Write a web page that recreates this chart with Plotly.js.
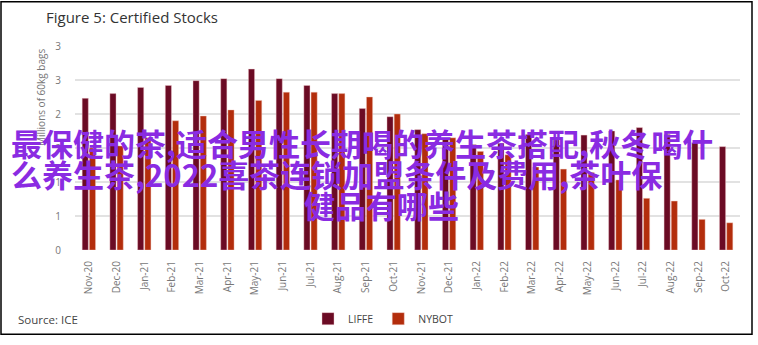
<!DOCTYPE html>
<html>
<head>
<meta charset="utf-8">
<script src="https://cdn.plot.ly/plotly-3.0.1.min.js"></script>
<style>
html,body{margin:0;padding:0;background:#fff;}
#chart{width:758px;height:345px;}
</style>
</head>
<body>
<div id="chart"></div>
<script>
// ---- data ----
const months = ["Nov-20","Dec-20","Jan-21","Feb-21","Mar-21","Apr-21","May-21","Jun-21","Jul-21","Aug-21","Sep-21","Oct-21",
                "Nov-21","Dec-21","Jan-22","Feb-22","Mar-22","Apr-22","May-22","Jun-22","Jul-22","Aug-22","Sep-22","Oct-22"];
const liffe = [2.23, 2.30, 2.39, 2.42, 2.49, 2.52, 2.66, 2.52, 2.42, 2.30, 2.08, 1.96,
               1.77, 1.63, 1.55, 1.57, 1.70, 1.62, 1.69, 1.75, 1.80, 1.70, 1.58, 1.52];
const nybot = [1.50, 1.53, 1.65, 1.90, 1.97, 2.06, 2.20, 2.32, 2.32, 2.30, 2.25, 2.00,
               1.71, 1.65, 1.45, 1.40, 1.22, 1.19, 1.14, 1.03, 0.76, 0.72, 0.45, 0.40];
const yTickVals = [0, 0.5, 1, 1.5, 2, 2.5, 3];
const yTickText = ["0", "1", "1", "2", "2", "3", "3"];
const seriesNames = ["LIFFE", "NYBOT"];
const titleText = "Figure 5: Certified Stocks";
const yTitleText = "Millions of 60kg bags";
const sourceText = "Source: ICE";
const overlayLines = ["最保健的茶,适合男性长期喝的养生茶搭配,秋冬喝什",
                      "么养生茶,2022喜茶连锁加盟条件及费用,茶叶保",
                      "健品有哪些"];

// ---- geometry helpers ----
const W = 758, H = 345;
const M = {l: 75, r: 18, t: 46, b: 91};
const PW = W - M.l - M.r, PH = H - M.t - M.b;
const px2x = px => (px - M.l) / PW;
const px2y = py => (H - M.b - py) / PH;

const tickFont = {family: "Open Sans, sans-serif", size: 10, color: "#777"};

const traces = [
  {type: "bar", name: seriesNames[0], x: months, y: liffe,
   marker: {color: "#6b0b24", line: {color: "rgba(240,200,205,0.7)", width: 0.6}}},
  {type: "bar", name: seriesNames[1], x: months, y: nybot,
   marker: {color: "#b32d0c", line: {color: "rgba(240,200,190,0.7)", width: 0.6}}}
];

const overlayFont = {family: "Noto Sans CJK SC", size: 31, color: "#8a2be2", weight: 700};

const layout = {
  width: W, height: H,
  margin: M,
  paper_bgcolor: "#fff", plot_bgcolor: "#fff",
  barmode: "group", bargap: 0.48, bargroupgap: 0.15,
  title: {text: titleText, font: {family: "Open Sans, sans-serif", size: 15, color: "#333"},
          xref: "container", yref: "container", x: 46 / W, xanchor: "left", y: 1 - 18 / H, yanchor: "middle"},
  xaxis: {type: "category", tickangle: -90, tickfont: tickFont, showgrid: false, zeroline: false,
          showline: false, ticks: "outside", ticklen: 6, tickcolor: "rgba(0,0,0,0)", fixedrange: true},
  yaxis: {range: [0, 3], tickvals: yTickVals, ticktext: yTickText, tickfont: tickFont,
          showgrid: true, gridcolor: "#e2e2e2", gridwidth: 1.2, zeroline: false, showline: false,
          ticks: "outside", ticklen: 11, tickcolor: "rgba(0,0,0,0)", fixedrange: true},
  showlegend: true,
  legend: {orientation: "h", x: px2x(383), xanchor: "center", y: px2y(324), yanchor: "middle",
           font: {family: "Open Sans, sans-serif", size: 10.5, color: "#444"}, itemwidth: 30,
           bgcolor: "rgba(0,0,0,0)"},
  annotations: [
    {text: yTitleText, xref: "paper", yref: "paper", x: px2x(41), y: px2y(99), textangle: -90,
     showarrow: false, xanchor: "center", yanchor: "middle",
     font: {family: "Open Sans, sans-serif", size: 10, color: "#777"}},
    {text: sourceText, xref: "paper", yref: "paper", x: px2x(16), y: px2y(325), showarrow: false,
     xanchor: "left", yanchor: "middle", font: {family: "Open Sans, sans-serif", size: 11.5, color: "#444"}},
    {text: overlayLines[0], xref: "paper", yref: "paper", x: px2x(9), y: px2y(144), showarrow: false,
     xanchor: "left", yanchor: "middle", font: overlayFont},
    {text: overlayLines[1], xref: "paper", yref: "paper", x: px2x(9), y: px2y(176), showarrow: false,
     xanchor: "left", yanchor: "middle", font: overlayFont},
    {text: overlayLines[2], xref: "paper", yref: "paper", x: px2x(302), y: px2y(208), showarrow: false,
     xanchor: "left", yanchor: "middle", font: overlayFont}
  ],
  shapes: [
    {type: "rect", xref: "paper", yref: "paper", x0: px2x(1), x1: px2x(752), y0: px2y(1), y1: px2y(340),
     line: {color: "#000", width: 1.5}, fillcolor: "rgba(0,0,0,0)", layer: "above"}
  ]
};

Plotly.newPlot("chart", traces, layout, {displayModeBar: false, staticPlot: true});
</script>
</body>
</html>
